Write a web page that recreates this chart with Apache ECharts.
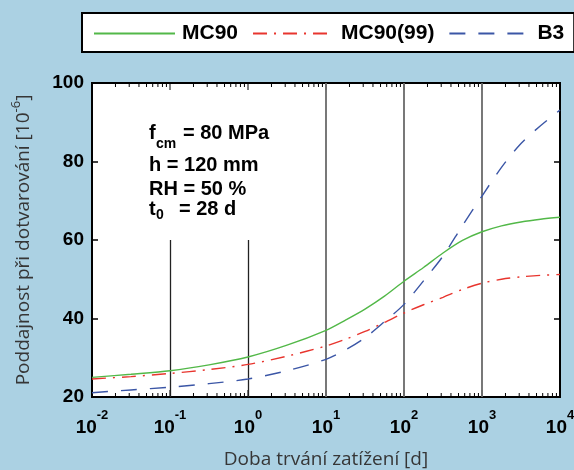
<!DOCTYPE html>
<html>
<head>
<meta charset="utf-8">
<script src="https://cdn.jsdelivr.net/npm/echarts@6/dist/echarts.min.js"></script>
<style>
html,body{margin:0;padding:0;background:#abd1e3;}
#c{width:574px;height:470px;}
</style>
</head>
<body>
<div id="c"></div>
<script>
// ---- data ----
const seriesNames = ['MC90', 'MC90(99)', 'B3'];
// log10 of load duration [d]
const logT = [-2, -1.5, -1, -0.5, 0, 0.5, 1, 1.25, 1.5, 1.75, 2, 2.25, 2.5, 2.75, 3, 3.25, 3.5, 3.75, 4];
const mc90    = [25.0, 25.8, 26.7, 28.2, 30.2, 33.2, 37.0, 39.6, 42.4, 45.7, 49.5, 53.0, 56.7, 59.9, 62.1, 63.6, 64.6, 65.3, 65.8];
const mc90_99 = [24.6, 25.2, 26.0, 27.0, 28.3, 30.4, 33.0, 34.7, 36.7, 39.0, 41.4, 43.5, 45.4, 47.4, 49.0, 50.0, 50.6, 51.0, 51.2];
const b3      = [21.1, 21.8, 22.5, 23.4, 24.6, 26.7, 29.6, 32.0, 35.1, 39.2, 43.6, 49.6, 55.9, 63.7, 71.2, 78.5, 84.6, 89.1, 93.1];
const xTickExponents = ['-2', '-1', '0', '1', '2', '3', '4'];
const yTicks = [20, 40, 60, 80, 100];
const vLineX = [0.1, 1, 10, 100, 1000];
const vLineTop = [60, 60, 100, 100, 100];

const BOLD = '"Liberation Sans", Arial, Helvetica, sans-serif';
const REG = '"Open Sans", "Noto Sans", sans-serif';

function pts(vals) { return logT.map((e, i) => [Math.pow(10, e), vals[i]]); }

// minor log tick positions (decoration)
const minorTicks = [];
for (let e = -2; e < 4; e++) {
  for (let k = 2; k <= 9; k++) minorTicks.push(k * Math.pow(10, e));
}
const majorTicks = xTickExponents.map(s => Math.pow(10, Number(s)));

function tx(text, x, y, size) {
  return {
    type: 'text', x: x, y: y, z: 100,
    style: {
      text: text, align: 'left', verticalAlign: 'middle',
      fontFamily: BOLD, fontWeight: 'bold', fontSize: size, fill: '#000'
    }
  };
}
const graphics = [
  tx('f', 149, 133, 20), tx('cm', 156, 144, 14), tx('= 80 MPa', 183, 133, 20),
  tx('h = 120 mm', 149, 165, 20),
  tx('RH = 50 %', 149, 189, 20),
  tx('t', 149, 209, 20), tx('0', 156, 215, 14), tx('= 28 d', 179, 209, 20)
];

const chart = echarts.init(document.getElementById('c'), null, {renderer: 'canvas'});

const option = {
  backgroundColor: '#abd1e3',
  animation: false,
  legend: {
    left: 82,
    top: 13,
    width: 480,
    orient: 'horizontal',
    padding: [10, 10, 8, 11],
    itemGap: 14,
    itemWidth: 81,
    itemHeight: 14,
    backgroundColor: '#fff',
    borderColor: '#000',
    borderWidth: 2,
    borderRadius: 0,
    itemStyle: {opacity: 0},
    textStyle: {fontFamily: BOLD, fontWeight: 'bold', fontSize: 21, color: '#000', padding: [0, 0, 0, 2]},
    data: seriesNames
  },
  grid: {
    left: 92, right: 14, top: 83, bottom: 73,
    outerBoundsMode: 'none',
    containLabel: false,
    show: true,
    backgroundColor: '#fff',
    borderColor: '#000',
    borderWidth: 2
  },
  xAxis: [{
    type: 'log',
    logBase: 10,
    min: 0.01,
    max: 10000,
    position: 'bottom',
    axisLine: {show: false},
    axisTick: {show: false},
    splitLine: {show: false},
    axisLabel: {
      margin: 12,
      formatter: function (v) {
        const e = String(Math.round(Math.log10(v)));
        const lab = xTickExponents[xTickExponents.indexOf(e)];
        return '{b|10}{s|' + lab + '}';
      },
      rich: {
        b: {fontFamily: BOLD, fontWeight: 'bold', fontSize: 19, color: '#000'},
        s: {fontFamily: BOLD, fontWeight: 'bold', fontSize: 13, color: '#000', padding: [0, 0, 24, 0]}
      }
    },
    name: 'Doba trvání zatížení [d]',
    nameLocation: 'middle',
    nameGap: 53,
    nameTextStyle: {fontFamily: REG, fontSize: 19, color: '#363636'}
  }],
  yAxis: [{
    type: 'value',
    min: 20, max: 100, interval: 20,
    position: 'left',
    axisLine: {show: false},
    axisTick: {show: true, inside: true, length: 6, lineStyle: {color: '#000', width: 1.5}},
    splitLine: {show: false},
    axisLabel: {
      margin: 8,
      fontFamily: BOLD, fontWeight: 'bold', fontSize: 19, color: '#000',
      formatter: function (v) { return yTicks.indexOf(v) >= 0 ? String(v) : ''; }
    },
    name: '{r|Poddajnost při dotvarování [10}{s|-6}{r|]}',
    nameLocation: 'middle',
    nameRotate: 90,
    nameGap: 55,
    nameTextStyle: {
      rich: {
        r: {fontFamily: REG, fontSize: 19, color: '#363636'},
        s: {fontFamily: REG, fontSize: 13, color: '#363636', padding: [0, 0, 14, 0]}
      }
    }
  }, {
    type: 'value',
    min: 20, max: 100, interval: 20,
    position: 'right',
    axisLine: {show: false},
    axisTick: {show: true, inside: true, length: 6, lineStyle: {color: '#000', width: 1.5}},
    splitLine: {show: false},
    axisLabel: {show: false}
  }],
  graphic: graphics,
  series: [
    {
      name: '_grid',
      type: 'custom',
      silent: true,
      z: 1,
      data: minorTicks.map(x => [x, 0]).concat(majorTicks.map(x => [x, 1])),
      renderItem: function (params, api) {
        const x = api.value(0);
        const len = api.value(1) === 1 ? 7 : 4;
        const b = api.coord([x, 20]);
        const t = api.coord([x, 100]);
        const st = {stroke: '#000', lineWidth: 1};
        return {
          type: 'group',
          children: [
            {type: 'line', shape: {x1: b[0], y1: b[1], x2: b[0], y2: b[1] - len}, style: st},
            {type: 'line', shape: {x1: t[0], y1: t[1], x2: t[0], y2: t[1] + len}, style: st}
          ]
        };
      },
      markLine: {
        silent: true,
        symbol: ['none', 'none'],
        label: {show: false},
        lineStyle: {color: '#333', width: 1.3, type: 'solid'},
        data: vLineX.map((x, i) => {
          const full = vLineTop[i] === 100;
          const ls = full ? {color: '#6a6a6a', width: 1.8, type: 'solid'} : {color: '#222', width: 1.3, type: 'solid'};
          return [{coord: [x, 20], lineStyle: ls}, {coord: [x, vLineTop[i]]}];
        })
      }
    },
    {
      name: seriesNames[0],
      type: 'line',
      data: pts(mc90),
      smooth: 0.3,
      symbol: 'none',
      z: 5,
      lineStyle: {color: '#52b848', width: 1.4, type: 'solid'},
      itemStyle: {color: '#52b848'}
    },
    {
      name: seriesNames[1],
      type: 'line',
      data: pts(mc90_99),
      smooth: 0.3,
      symbol: 'none',
      z: 5,
      lineStyle: {color: '#e8352e', width: 1.4, type: [14, 7, 2, 7]},
      itemStyle: {color: '#e8352e'}
    },
    {
      name: seriesNames[2],
      type: 'line',
      data: pts(b3),
      smooth: 0.3,
      symbol: 'none',
      z: 5,
      lineStyle: {color: '#3b56a6', width: 1.4, type: [16, 13]},
      itemStyle: {color: '#3b56a6'}
    }
  ]
};
chart.setOption(option);
</script>
</body>
</html>
